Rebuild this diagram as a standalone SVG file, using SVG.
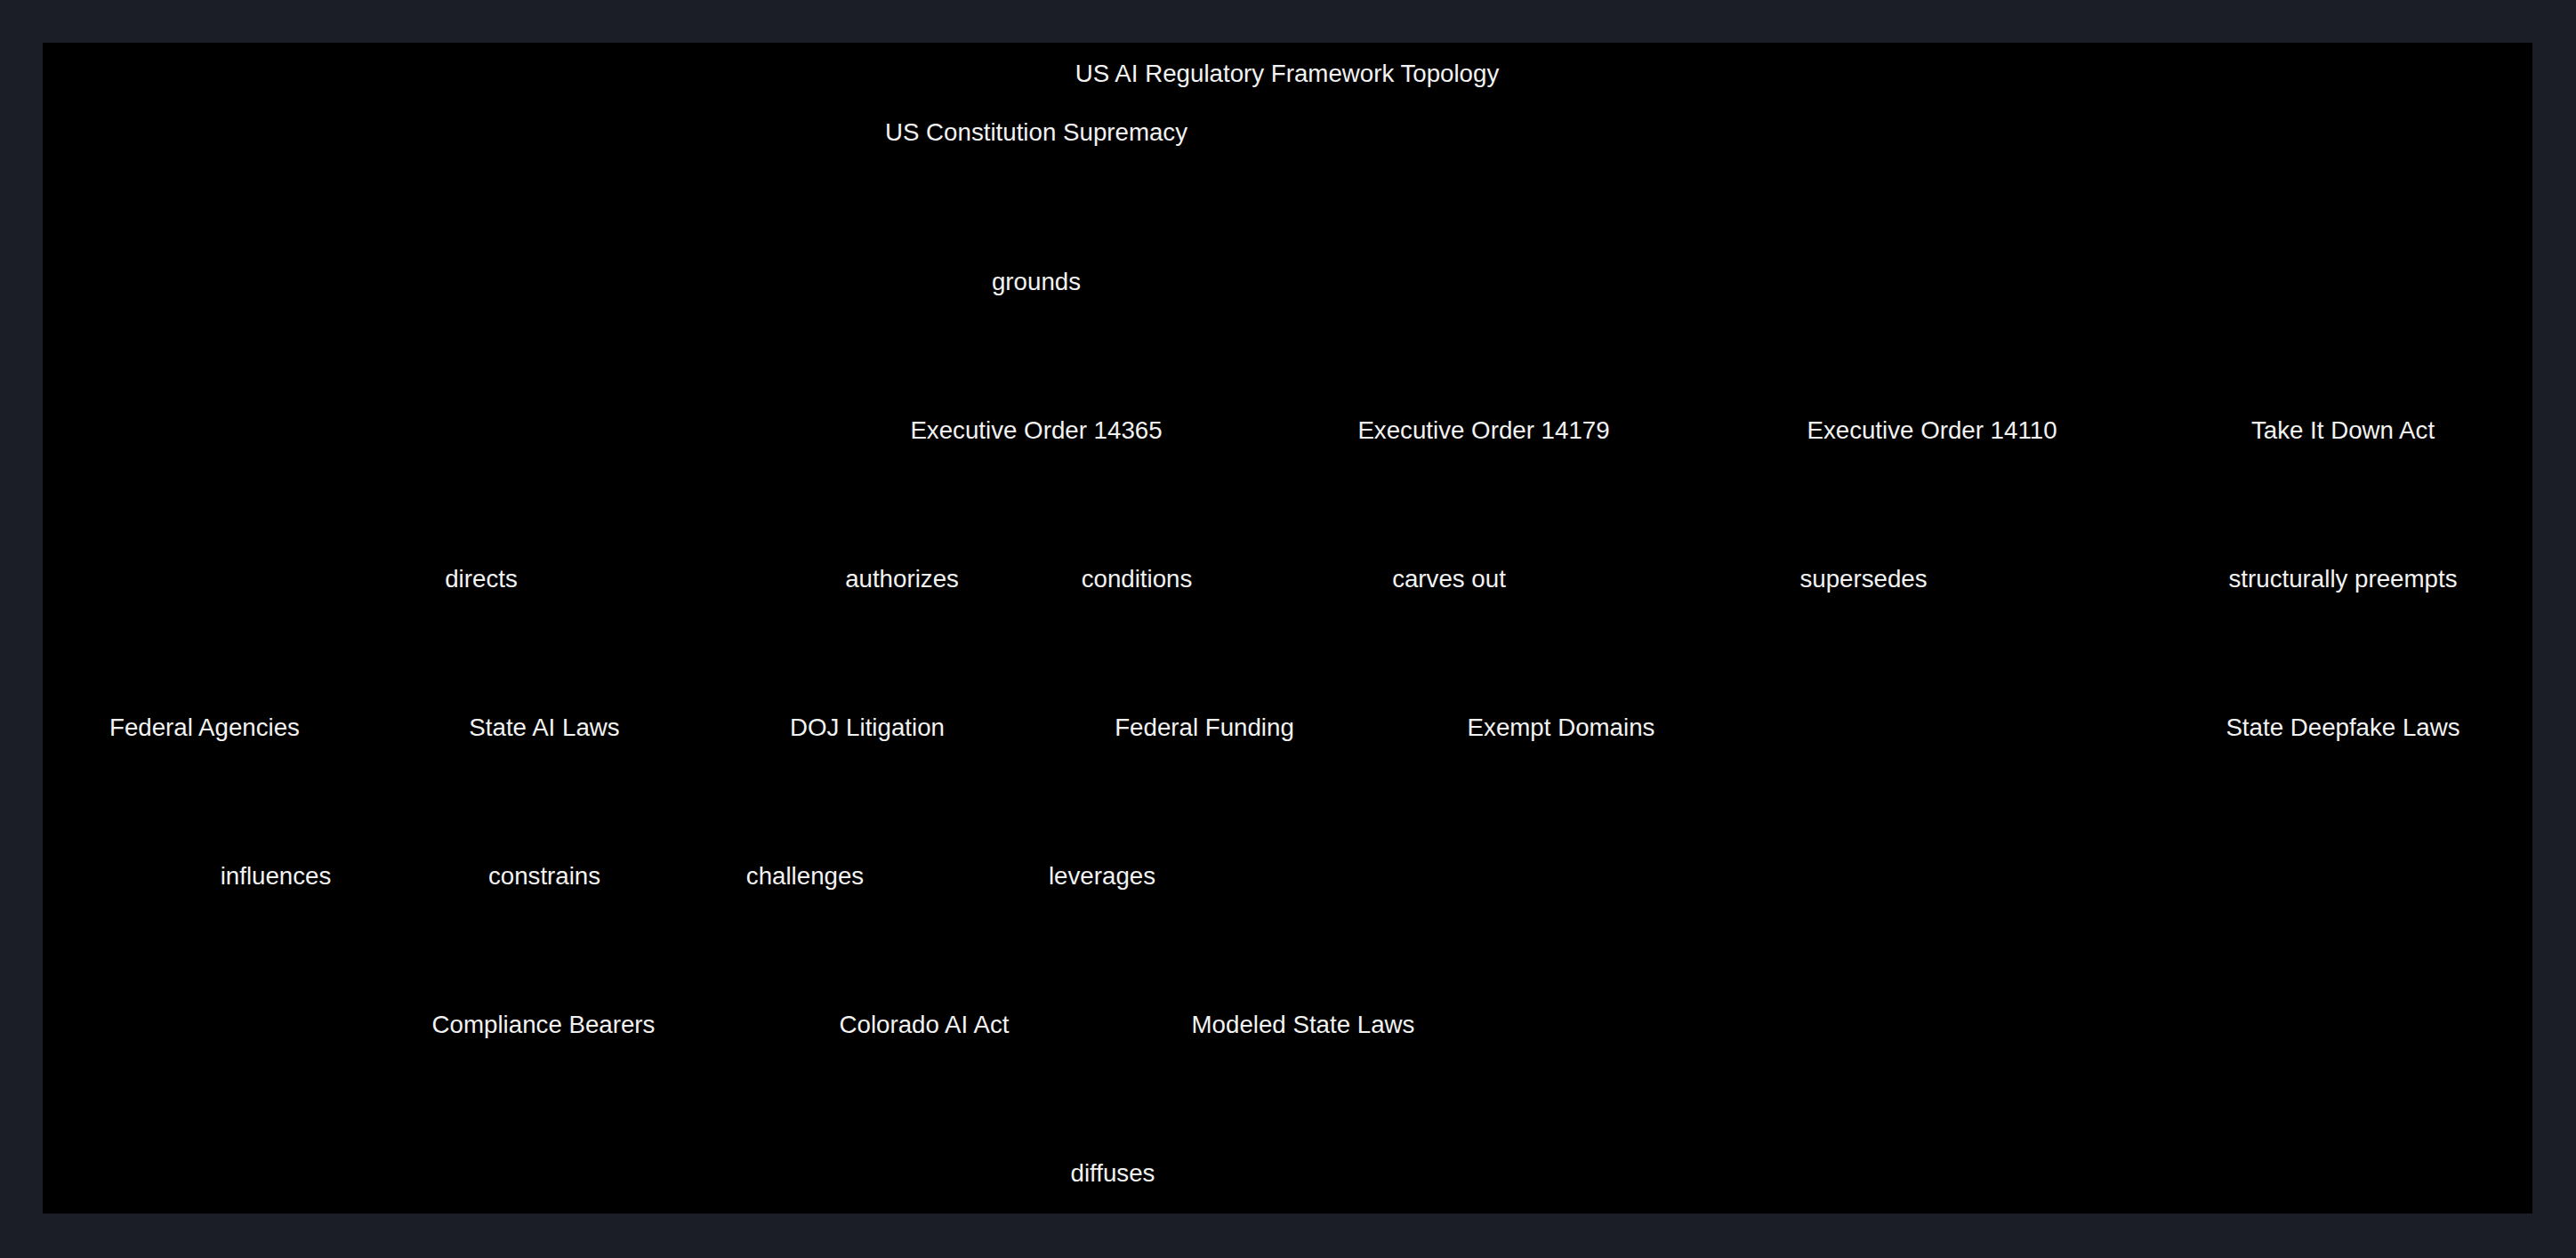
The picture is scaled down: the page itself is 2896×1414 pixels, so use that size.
<svg xmlns="http://www.w3.org/2000/svg" width="2896" height="1414" viewBox="0 0 2896 1414">
  <style>
    text { font-family: "Liberation Sans", Arial, Helvetica, sans-serif; font-size: 27.7px; fill: #f2f2f2; text-anchor: middle; }
  </style>
  <rect x="0" y="0" width="2896" height="1414" fill="#1b1e26"/>
  <rect x="48" y="48" width="2799" height="1316" fill="#000000"/>
  <text id="title" x="1447" y="92">US AI Regulatory Framework Topology</text>

  <g id="connectors">
    <text x="1165" y="326">grounds</text>
    <text x="541" y="660">directs</text>
    <text x="1014" y="660">authorizes</text>
    <text x="1278" y="660">conditions</text>
    <text x="1629" y="660">carves out</text>
    <text x="2095" y="660">supersedes</text>
    <text x="2634" y="660">structurally preempts</text>
    <text x="310" y="994">influences</text>
    <text x="612" y="994">constrains</text>
    <text x="905" y="994">challenges</text>
    <text x="1239" y="994">leverages</text>
    <text x="1251" y="1328">diffuses</text>
  </g>

  <g id="node-constitution"><text x="1165" y="158">US Constitution Supremacy</text></g>
  <g id="node-eo14365"><text x="1165" y="493">Executive Order 14365</text></g>
  <g id="node-eo14179"><text x="1668" y="493">Executive Order 14179</text></g>
  <g id="node-eo14110"><text x="2172" y="493">Executive Order 14110</text></g>
  <g id="node-takeitdown"><text x="2634" y="493">Take It Down Act</text></g>
  <g id="node-agencies"><text x="230" y="827">Federal Agencies</text></g>
  <g id="node-statelaws"><text x="612" y="827">State AI Laws</text></g>
  <g id="node-doj"><text x="975" y="827">DOJ Litigation</text></g>
  <g id="node-funding"><text x="1354" y="827">Federal Funding</text></g>
  <g id="node-exempt"><text x="1755" y="827">Exempt Domains</text></g>
  <g id="node-deepfake"><text x="2634" y="827">State Deepfake Laws</text></g>
  <g id="node-compliance"><text x="611" y="1161">Compliance Bearers</text></g>
  <g id="node-colorado"><text x="1039" y="1161">Colorado AI Act</text></g>
  <g id="node-modeled"><text x="1465" y="1161">Modeled State Laws</text></g>
</svg>
